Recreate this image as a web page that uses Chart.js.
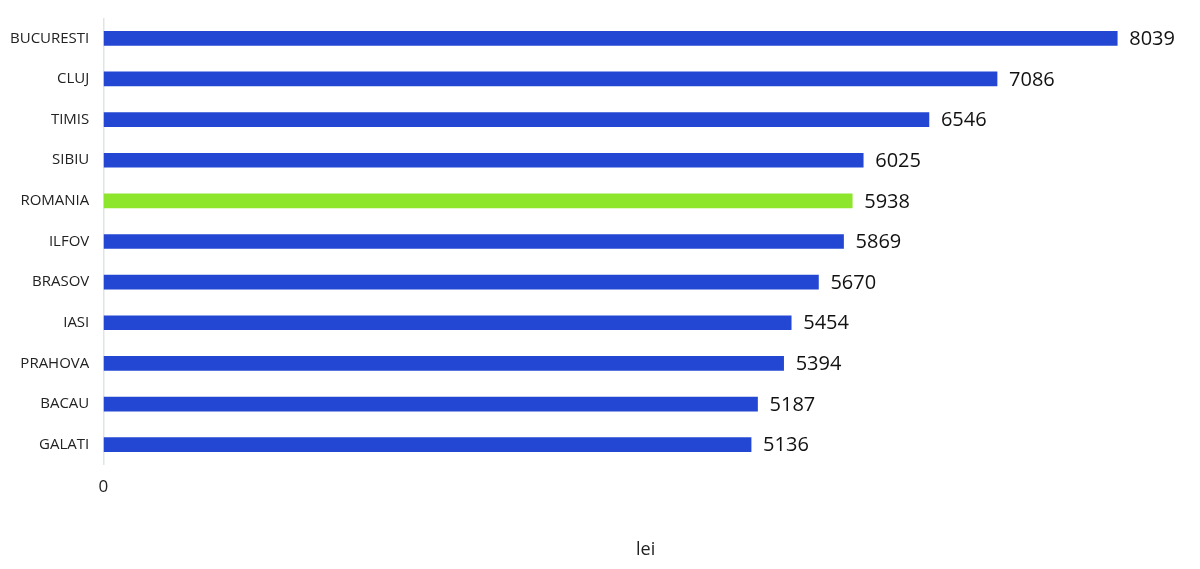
<!DOCTYPE html>
<html>
<head>
<meta charset="utf-8">
<script src="https://cdn.jsdelivr.net/npm/chart.js@4"></script>
<style>
  html, body { margin: 0; padding: 0; background: #fff; }
  #wrap { width: 1200px; height: 569px; }
</style>
</head>
<body>
<div id="wrap"><canvas id="chart"></canvas></div>
<script>
// Datele graficului
const judete = ['BUCURESTI', 'CLUJ', 'TIMIS', 'SIBIU', 'ROMANIA', 'ILFOV', 'BRASOV', 'IASI', 'PRAHOVA', 'BACAU', 'GALATI'];
const salarii = [8039, 7086, 6546, 6025, 5938, 5869, 5670, 5454, 5394, 5187, 5136];
const culori = judete.map(j => j === 'ROMANIA' ? '#8ee62c' : '#2347d3');

// Etichetele de valoare la capatul barelor
const valueLabels = {
    id: 'valueLabels',
    afterDatasetsDraw(chart) {
        const ctx = chart.ctx;
        const meta = chart.getDatasetMeta(0);
        ctx.save();
        ctx.font = '20px "Open Sans", sans-serif';
        ctx.fillStyle = '#111';
        ctx.textBaseline = 'middle';
        meta.data.forEach((bar, i) => {
            ctx.fillText(salarii[i], bar.x + 12, bar.y + 1);
        });
        ctx.restore();
    }
};

const pas = v => v % 1000 === 0;

new Chart(document.getElementById('chart'), {
    type: 'bar',
    data: {
        labels: judete,
        datasets: [{
            data: salarii,
            backgroundColor: culori,
            barThickness: 14
        }]
    },
    options: {
        indexAxis: 'y',
        responsive: true,
        maintainAspectRatio: false,
        animation: false,
        layout: { padding: { top: 18, right: 10, left: 4, bottom: 4 } },
        plugins: { legend: { display: false }, tooltip: { enabled: false } },
        scales: {
            x: {
                min: 0,
                max: 8600,
                ticks: {
                    stepSize: 1000,
                    autoSkip: false,
                    color: '#222',
                    font: { size: 17, family: 'Open Sans' },
                    padding: 12,
                    callback: v => pas(v) ? v : ''
                },
                grid: {
                    color: c => (c.tick && pas(c.tick.value)) ? '#dde5e5' : 'rgba(0,0,0,0)',
                    lineWidth: 1.5,
                    drawTicks: false
                },
                border: { display: false },
                title: { display: true, text: 'lei', color: '#222', font: { size: 18, family: 'Open Sans' }, padding: { top: 30 } }
            },
            y: {
                ticks: { color: '#222', font: { size: 15, family: 'Open Sans' }, padding: 6 },
                grid: { display: false },
                border: { display: false }
            }
        }
    },
    plugins: [valueLabels]
});
</script>
</body>
</html>
